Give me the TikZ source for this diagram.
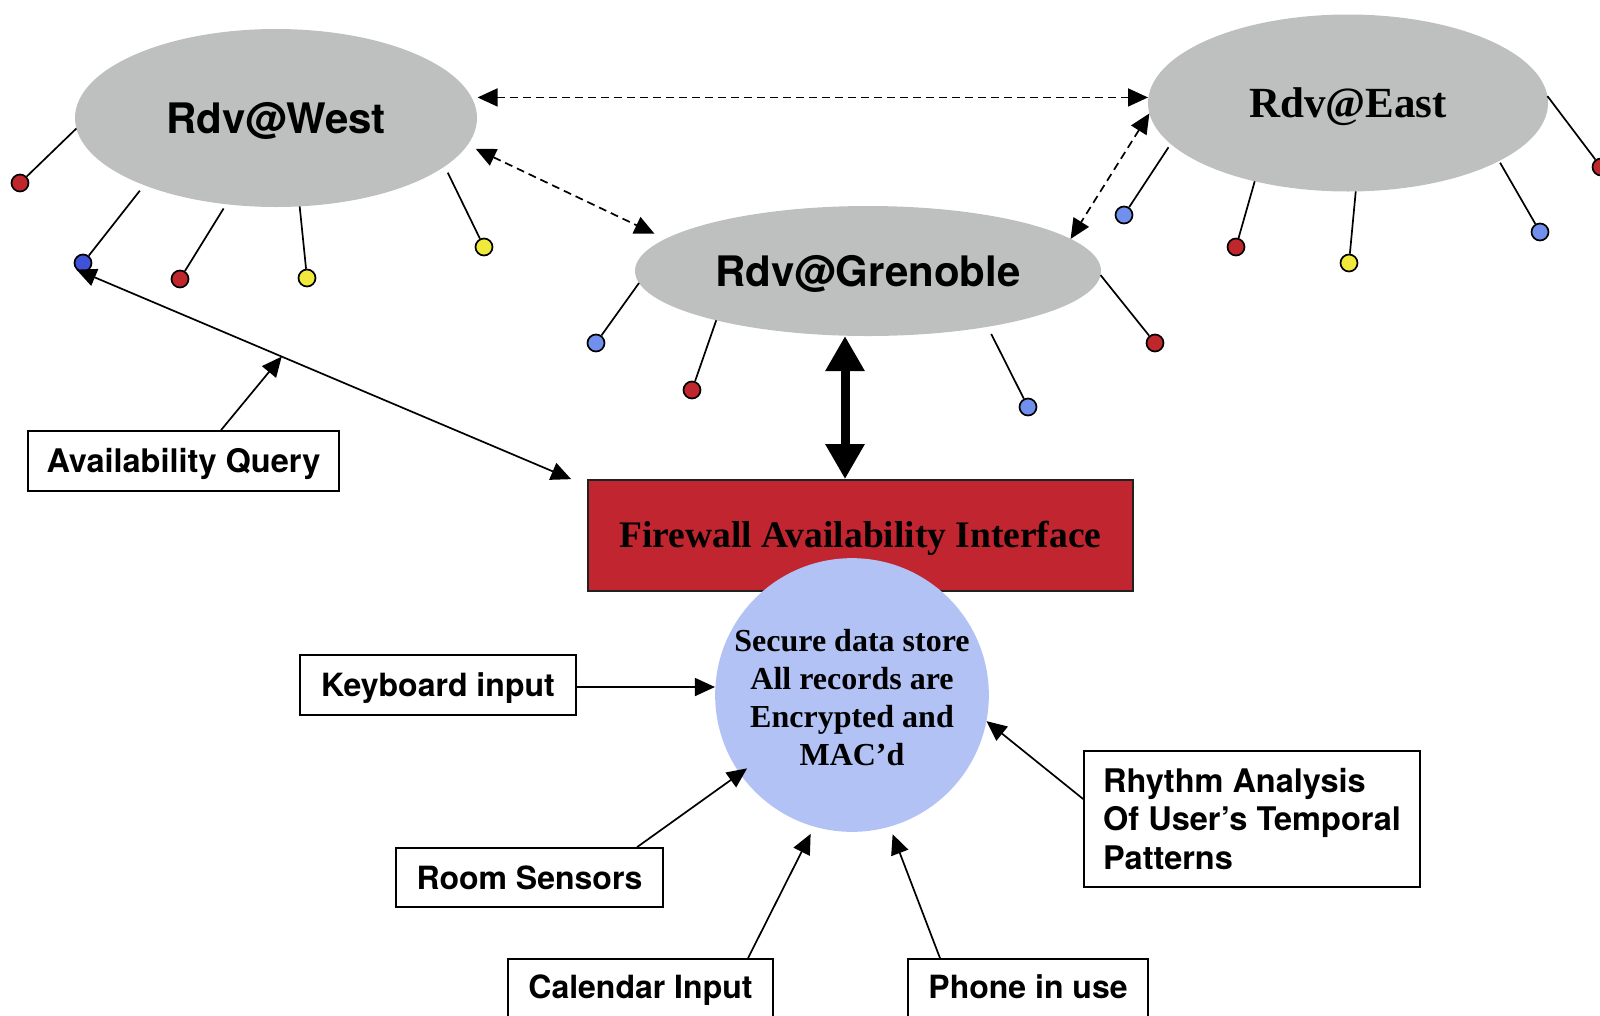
\documentclass[tikz,border=0pt]{standalone}
\usepackage{fontspec}
\usetikzlibrary{shapes.geometric,arrows.meta,calc}
\newfontfamily\hv{TeX Gyre Heros}
\newfontfamily\tm{Liberation Serif}
\definecolor{ellgray}{RGB}{190,192,191}
\definecolor{fwred}{RGB}{193,37,47}
\definecolor{storeblue}{RGB}{178,194,245}
\definecolor{dotred}{RGB}{192,39,45}
\definecolor{dotyellow}{RGB}{240,232,58}
\definecolor{dotblue}{RGB}{64,82,216}
\definecolor{dotlblue}{RGB}{113,144,238}
\tikzset{
  site/.style={ellipse, fill=ellgray, inner sep=0pt, outer sep=0pt},
  dotnode/.style={circle, draw=black, line width=1.7pt, minimum size=17pt, inner sep=0pt, fill=#1},
  stub/.style={line width=1.7pt},
  boxbase/.style={draw=black, line width=1.7pt, fill=white, inner sep=0pt},
  lbl/.style={boxbase, font=\hv\bfseries\fontsize{32}{38}\selectfont, text height=23pt, text depth=0pt},
  arr/.style={line width=1.7pt, -{Triangle[length=20pt,width=18pt]}},
  darr/.style={line width=1.7pt, {Triangle[length=20pt,width=18pt]}-{Triangle[length=20pt,width=18pt]}},
  dasharr/.style={darr, dash pattern=on 8pt off 5pt},
  bigarr/.style={line width=9pt, {Triangle[length=35pt,width=37pt]}-{Triangle[length=35pt,width=37pt]}},
}
\begin{document}
\begin{tikzpicture}[x=1pt,y=-1pt]
\useasboundingbox (0,0) rectangle (1600,1015);
\clip (0,0) rectangle (1600,1015);

% sites
\node[site, minimum width=402pt, minimum height=178pt, font=\hv\bfseries\fontsize{42}{50}\selectfont, text height=30pt, text depth=0pt] (W) at (276,118) {Rdv@West};
\node[site, minimum width=400pt, minimum height=177pt, font=\tm\bfseries\fontsize{43}{50}\selectfont, text height=28.5pt, text depth=0pt] (E) at (1348,103) {Rdv@East};
\node[site, minimum width=466pt, minimum height=130pt, font=\hv\bfseries\fontsize{42}{50}\selectfont, text height=30pt, text depth=0pt] (G) at (868,271) {Rdv@Grenoble};

% dots
\node[dotnode=dotred] (w1) at (20,183) {};
\node[dotnode=dotblue] (w2) at (83,263) {};
\node[dotnode=dotred] (w3) at (180,279) {};
\node[dotnode=dotyellow] (w4) at (307,278) {};
\node[dotnode=dotyellow] (w5) at (484,247) {};
\node[dotnode=dotlblue] (e1) at (1124,215) {};
\node[dotnode=dotred] (e2) at (1236,247) {};
\node[dotnode=dotyellow] (e3) at (1349,263) {};
\node[dotnode=dotlblue] (e4) at (1540,232) {};
\node[dotnode=dotred] (e5) at (1601,167) {};
\node[dotnode=dotlblue] (g1) at (596,343) {};
\node[dotnode=dotred] (g2) at (692,390) {};
\node[dotnode=dotlblue] (g3) at (1028,407) {};
\node[dotnode=dotred] (g4) at (1155,343) {};

% stubs
\draw[stub] (W.183) -- (w1);
\draw[stub, shorten <=7pt] (W.207) -- (w2);
\draw[stub, shorten <=5pt] (W.240) -- (w3);
\draw[stub] (W.285) -- (w4);
\draw[stub, shorten <=7pt] (W.344) -- (w5);
\draw[stub, shorten <=4pt] (E.193) -- (e1);
\draw[stub] (E.220) -- (e2);
\draw[stub] (E.275) -- (e3);
\draw[stub, shorten <=2pt] (E.339) -- (e4);
\draw[stub] (E.2) -- (e5);
\draw[stub] (G.183) -- (g1);
\draw[stub] (G.198) -- (g2);
\draw[stub, shorten <=8pt] (G.335) -- (g3);
\draw[stub] (G.359) -- (g4);

% firewall and store
\node[draw=black!87, line width=1.7pt, fill=fwred, minimum width=545pt, minimum height=111pt, inner sep=0pt, font=\tm\bfseries\fontsize{37.5}{44}\selectfont, text height=24.5pt, text depth=0pt] (F) at (860.5,535.5) {Firewall Availability Interface};
\node[circle, fill=storeblue, minimum size=272pt, inner sep=0pt, align=center, font=\tm\bfseries\fontsize{32}{38}\selectfont] (C) at (852,695) {\rule{0pt}{27pt}Secure data store\\All records are\\Encrypted and\\MAC’d};

% label boxes
\node[lbl, minimum width=311pt, minimum height=60pt, font=\hv\bfseries\fontsize{32.5}{38}\selectfont] (AQ) at (183.5,461) {Availability Query};
\node[lbl, minimum width=276pt, minimum height=60pt] (KB) at (438,685) {Keyboard input};
\node[lbl, minimum width=267pt, minimum height=59pt] (RS) at (529.5,877.5) {Room Sensors};
\node[lbl, minimum width=265pt, minimum height=64pt, text depth=8pt] (CI) at (640.5,991) {Calendar Input};
\node[lbl, minimum width=240pt, minimum height=64pt, text depth=8pt] (PH) at (1028,991) {Phone in use};
\node[boxbase, minimum width=336pt, minimum height=136pt, align=left, font=\hv\bfseries\fontsize{32.5}{38.5}\selectfont] (RH) at (1252,819) {Rhythm Analysis\\Of User’s Temporal\\Patterns};

% dashed links between sites
\draw[dasharr, shorten <=6pt] (W.6.5) -- (W.6.5 -| E.west);
\draw[dasharr, shorten <=9pt, shorten >=12pt] (W.352) -- (G.171);
\draw[dasharr] (E.183) -- (G.9);

% thick link Grenoble - firewall
\coordinate (tx) at (845,0);
\draw[bigarr] (F.north -| tx) -- (G.south -| tx);

% availability query
\draw[darr] (w2.south west) -- coordinate[pos=0.415] (q) ($(F.north west)+(-16,0)$);
\draw[arr] ($(AQ.north)+(37.5,0)$) -- (q);

% inputs to store
\draw[arr] ($(KB.east)+(0,2)$) -- ($(KB.east -| C.west)+(0,2)$);
\draw[arr, shorten >=-9pt] ($(RS.north)+(107.5,0)$) -- (C.215);
\draw[arr, shorten >=8pt] ($(CI.north)+(107.5,0)$) -- (C.254);
\draw[arr, shorten >=8pt] ($(PH.north)+(-88,0)$) -- (C.286);
\draw[arr] ($(RH.west)+(0,-20)$) -- (C.349);
\end{tikzpicture}
\end{document}
